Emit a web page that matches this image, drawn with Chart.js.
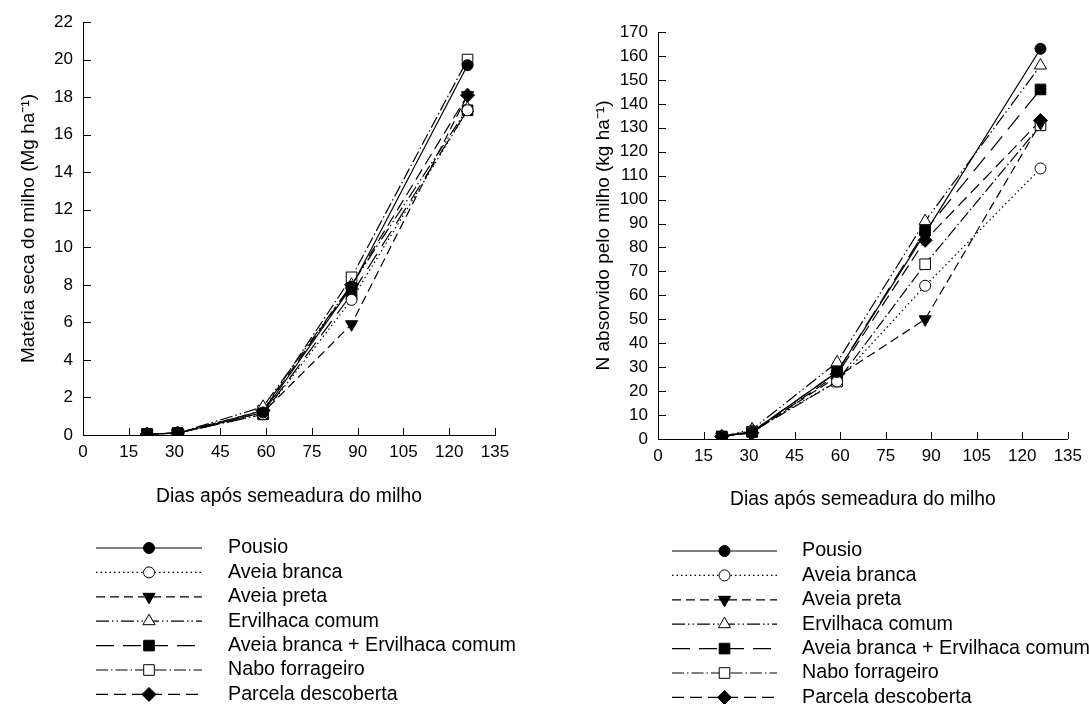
<!DOCTYPE html>
<html lang="pt">
<head>
<meta charset="UTF-8">
<title>Milho - matéria seca e N absorvido</title>
<script src="https://cdn.jsdelivr.net/npm/chart.js"></script>
<style>
    body { margin: 0; background: #fff; }
    .wrap { position: relative; width: 1089px; height: 704px; overflow: hidden; }
    canvas { position: absolute; top: 0; }
    #msChart { left: 0; }
    #nChart { left: 545px; }
</style>
</head>
<body>
<div class="wrap">
    <canvas id="msChart" width="544" height="704"></canvas>
    <canvas id="nChart" width="544" height="704"></canvas>
</div>
<script>
// dias após semeadura
const dias = [21, 31, 59, 88, 126];

const tratamentos = ['Pousio', 'Aveia branca', 'Aveia preta', 'Ervilhaca comum',
    'Aveia branca + Ervilhaca comum', 'Nabo forrageiro', 'Parcela descoberta'];

// matéria seca do milho (Mg ha-1)
const msPousio   = [0.05, 0.10, 1.2, 7.9, 19.7];
const msAveiaB   = [0.05, 0.10, 1.1, 7.2, 17.3];
const msAveiaP   = [0.05, 0.10, 1.2, 5.9, 18.1];
const msErvilh   = [0.05, 0.10, 1.5, 8.0, 17.4];
const msAveiaBE  = [0.05, 0.10, 1.1, 7.5, 17.3];
const msNabo     = [0.05, 0.10, 1.3, 8.4, 20.0];
const msParcela  = [0.05, 0.10, 1.3, 8.0, 18.1];

// N absorvido pelo milho (kg ha-1)
const nPousio    = [1, 3.0, 28, 86, 163];
const nAveiaB    = [1, 3.5, 24, 64, 113];
const nAveiaP    = [1, 3.0, 26, 50, 132];
const nErvilh    = [1, 4.0, 32, 91, 156];
const nAveiaBE   = [1, 3.0, 28, 87, 146];
const nNabo      = [1, 3.0, 24, 73, 131];
const nParcela   = [1, 2.5, 27, 83, 133];

const FONT = 'Liberation Sans, Arial, sans-serif';

// estilo de cada tratamento (linha + marcador)
const estilos = [
    { dash: [],                     point: 'circle',   radius: 5.5, fill: '#000', rot: 0 },
    { dash: [1.5, 3],               point: 'circle',   radius: 5.5, fill: '#fff', rot: 0 },
    { dash: [9, 5],                 point: 'triangle', radius: 7,   fill: '#000', rot: 180 },
    { dash: [13, 3, 1.5, 3, 1.5, 3], point: 'triangle', radius: 7,  fill: '#fff', rot: 0 },
    { dash: [18, 9],                point: 'rect',     radius: 7.5, fill: '#000', rot: 0 },
    { dash: [12, 3, 1.5, 3],        point: 'rect',     radius: 7.5, fill: '#fff', rot: 0 },
    { dash: [12, 6],                point: 'rectRot',  radius: 7,   fill: '#000', rot: 0 }
];

function makeDatasets(series) {
    return series.map((vals, i) => ({
        label: tratamentos[i],
        data: dias.map((d, k) => ({ x: d, y: vals[k] })),
        borderColor: '#000',
        borderWidth: 1.2,
        borderDash: estilos[i].dash,
        pointStyle: estilos[i].point,
        pointRadius: estilos[i].radius,
        pointRotation: estilos[i].rot,
        pointBackgroundColor: estilos[i].fill,
        pointBorderColor: '#000',
        pointBorderWidth: 1,
        tension: 0,
        fill: false
    }));
}

// marcas dos eixos para dentro
const innerTicks = {
    id: 'innerTicks',
    afterDraw(chart) {
        const { ctx, chartArea: a, scales: { x, y } } = chart;
        ctx.save();
        ctx.strokeStyle = '#000';
        ctx.lineWidth = 1;
        ctx.beginPath();
        x.ticks.forEach(t => {
            const px = Math.round(x.getPixelForValue(t.value)) + 0.5;
            ctx.moveTo(px, a.bottom);
            ctx.lineTo(px, a.bottom - 7);
        });
        y.ticks.forEach(t => {
            const py = Math.round(y.getPixelForValue(t.value)) + 0.5;
            ctx.moveTo(a.left, py);
            ctx.lineTo(a.left + 8, py);
        });
        ctx.stroke();
        ctx.restore();
    }
};

// legenda em lista abaixo do gráfico
const legendaLista = {
    id: 'legendaLista',
    afterDraw(chart, args, opts) {
        const ctx = chart.ctx;
        ctx.save();
        chart.data.datasets.forEach((ds, i) => {
            const yy = opts.y0 + i * opts.step;
            ctx.strokeStyle = '#000';
            ctx.lineWidth = 1.2;
            ctx.setLineDash(ds.borderDash);
            ctx.beginPath();
            ctx.moveTo(opts.x0, yy);
            ctx.lineTo(opts.x1, yy);
            ctx.stroke();
            ctx.setLineDash([]);
            ctx.fillStyle = ds.pointBackgroundColor;
            ctx.lineWidth = 1;
            Chart.helpers.drawPoint(ctx, {
                pointStyle: ds.pointStyle,
                radius: ds.pointRadius,
                rotation: ds.pointRotation,
                borderWidth: 1
            }, (opts.x0 + opts.x1) / 2, yy);
            ctx.fillStyle = '#000';
            ctx.font = '19.7px ' + FONT;
            ctx.textBaseline = 'middle';
            ctx.textAlign = 'left';
            ctx.fillText(ds.label, opts.tx, yy);
        });
        ctx.restore();
    }
};

function makeChart(id, series, yMax, yStep, yTitle, cfg) {
    new Chart(document.getElementById(id), {
        type: 'line',
        data: { datasets: makeDatasets(series) },
        plugins: [innerTicks, legendaLista],
        options: {
            responsive: false,
            animation: false,
            layout: { padding: cfg.padding },
            plugins: {
                legend: { display: false },
                tooltip: { enabled: false },
                legendaLista: cfg.legend
            },
            scales: {
                x: {
                    type: 'linear',
                    min: 0, max: 135,
                    afterBuildTicks: s => { s.ticks = [0,15,30,45,60,75,90,105,120,135].map(v => ({ value: v })); },
                    afterFit: s => { s.height = 80; },
                    grid: { display: true, drawOnChartArea: false, drawTicks: false },
                    border: { color: '#000', width: 1 },
                    ticks: { color: '#000', padding: 7, font: { family: FONT, size: 17 } },
                    title: {
                        display: true,
                        text: 'Dias após semeadura do milho',
                        color: '#000',
                        font: { family: FONT, size: 19.3 },
                        padding: { top: 0, bottom: cfg.xTitlePad }
                    }
                },
                y: {
                    min: 0, max: yMax,
                    ticks: { stepSize: yStep, color: '#000', padding: 10, font: { family: FONT, size: 17 } },
                    afterFit: s => { s.width = cfg.yWidth; },
                    grid: { display: true, drawOnChartArea: false, drawTicks: false },
                    border: { color: '#000', width: 1 },
                    title: {
                        display: true,
                        text: yTitle,
                        color: '#000',
                        font: { family: FONT, size: 19 },
                        padding: { top: cfg.yTitlePad, bottom: 0 }
                    }
                }
            }
        }
    });
}

makeChart('msChart',
    [msPousio, msAveiaB, msAveiaP, msErvilh, msAveiaBE, msNabo, msParcela],
    22, 2, 'Matéria seca do milho (Mg ha⁻¹)',
    {
        padding: { top: 22, right: 49, bottom: 189, left: 0 },
        yWidth: 83, xTitlePad: 7, yTitlePad: 17,
        legend: { x0: 96, x1: 202, tx: 228, y0: 548, step: 24.4 }
    });

makeChart('nChart',
    [nPousio, nAveiaB, nAveiaP, nErvilh, nAveiaBE, nNabo, nParcela],
    170, 10, 'N absorvido pelo milho (kg ha⁻¹)',
    {
        padding: { top: 32, right: 20, bottom: 185, left: 0 },
        yWidth: 113, xTitlePad: 8, yTitlePad: 47,
        legend: { x0: 127, x1: 232, tx: 257, y0: 551, step: 24.4 }
    });
</script>
</body>
</html>
